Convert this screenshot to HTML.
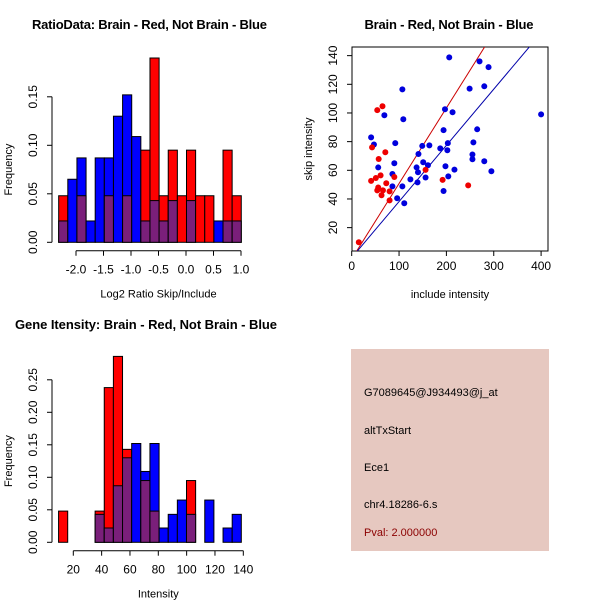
<!DOCTYPE html>
<html><head><meta charset="utf-8"><style>
html,body{margin:0;padding:0;background:#fff;}
svg{display:block;font-family:"Liberation Sans",sans-serif;}
</style></head><body>
<svg id="c" width="600" height="600" xmlns="http://www.w3.org/2000/svg">
<rect x="0" y="0" width="600" height="600" fill="#fff"/>
<text x="149.5" y="29" font-size="13" font-weight="bold" text-anchor="middle" textLength="235">RatioData: Brain - Red, Not Brain - Blue</text>
<text x="449" y="29" font-size="13" font-weight="bold" text-anchor="middle" textLength="169">Brain - Red, Not Brain - Blue</text>
<text x="146" y="329" font-size="13" font-weight="bold" text-anchor="middle" textLength="262">Gene Itensity: Brain - Red, Not Brain - Blue</text>
<g id="h1"></g>
<g id="sc"></g>
<g id="h2"></g>
<g>
<rect x="351" y="349" width="198" height="202" fill="#e6c8c0"/>
<text x="364" y="396" font-size="11">G7089645@J934493@j_at</text>
<text x="364" y="434" font-size="11">altTxStart</text>
<text x="364" y="471" font-size="11">Ece1</text>
<text x="364" y="508" font-size="11">chr4.18286-6.s</text>
<text x="364" y="536" font-size="11" fill="#8b0000">Pval: 2.000000</text>
</g>
</svg>
<script>
// ---- Ratio histogram data ----
const ratioBinStart = -2.315;
const ratioBinWidth = 0.166;
const ratioRed  = [0.048,0,0.048,0,0,0.048,0,0.048,0,0.095,0.19,0.048,0.095,0.048,0.095,0.048,0.048,0,0.095,0.048];
const ratioBlue = [0.022,0.065,0.087,0.022,0.087,0.087,0.130,0.152,0.109,0.022,0.043,0.022,0.043,0,0.043,0,0,0.022,0.022,0.022];
const ratioXTicks = [-2.0,-1.5,-1.0,-0.5,0.0,0.5,1.0];
const ratioXTickLabels = ["-2.0","-1.5","-1.0","-0.5","0.0","0.5","1.0"];
const ratioYTicks = [0,0.05,0.10,0.15];
const ratioYTickLabels = ["0.00","0.05","0.10","0.15"];
// ---- Intensity histogram data ----
const intBinStart = 9.6;
const intBinWidth = 6.45;
const intRed  = [0.048,0,0,0,0.048,0.238,0.286,0.143,0,0.095,0.048,0,0,0,0.095,0,0,0,0,0];
const intBlue = [0,0,0,0,0.043,0.022,0.087,0.130,0.152,0.109,0.152,0.022,0.043,0.065,0.043,0,0.065,0,0.022,0.043];
const intXTicks = [20,40,60,80,100,120,140];
const intXTickLabels = ["20","40","60","80","100","120","140"];
const intYTicks = [0,0.05,0.10,0.15,0.20,0.25];
const intYTickLabels = ["0.00","0.05","0.10","0.15","0.20","0.25"];
// ---- Scatter data ----
const blueX = [206,270,289,107,249,280,400,197,213,69,109,194,265,41,47,92,257,203,187,202,149,164,141,255,255,280,151,161,90,137,198,217,56,295,140,86,124,139,204,156,86,107,96,194,111];
const blueY = [138.8,136,132,116.5,117,118.6,99,102.6,100.5,98.4,95.6,88,88.6,83,78,79,79.5,79,75.3,74,77,77.4,71.4,71,67.7,66.3,65.6,63.5,64.9,62,62.8,60.5,62,59.3,58.6,57.4,53.7,51.6,55.8,55,48.8,48.8,40.5,45.6,37];
const redX = [15,65,54,43,71,57,61,51,41,90,73,156,192,246,56,54,66,63,80,80];
const redY = [9.8,104.7,102,76,72.6,67.9,56.5,54.6,52.6,55.3,51,60.3,53.3,49.5,48,46,46,42.6,45.3,39];
const redLine = [0.527,-1.9];   // slope, intercept
const blueLine = [0.392,-1.0];
const scXTicks = [0,100,200,300,400];
const scXTickLabels = ["0","100","200","300","400"];
const scYTicks = [20,40,60,80,100,120,140];
const scYTickLabels = ["20","40","60","80","100","120","140"];

const NS="http://www.w3.org/2000/svg";
function mk(parent,tag,attrs,text){const e=document.createElementNS(NS,tag);for(const k in attrs)e.setAttribute(k,attrs[k]);if(text!==undefined)e.textContent=text;parent.appendChild(e);return e;}
const PURPLE="#7a1f7a";

function histogram(g,o){
  const sx=v=>o.x0+(v-o.xv0)*o.kx;
  const sy=v=>o.y0-v*o.ky;
  for(let i=0;i<o.red.length;i++){
    const r=o.red[i],b=o.blue[i];
    const a=o.binStart+i*o.binWidth, x1=sx(a), x2=sx(a+o.binWidth);
    const hi=Math.max(r,b), lo=Math.min(r,b);
    if(hi>0){
      const e=mk(g,'rect',{x:x1,y:sy(hi),width:x2-x1,height:sy(0)-sy(hi),fill:r>=b?'#ff0000':'#0000ff',stroke:'#000','stroke-width':1});
      
      
    }
    if(lo>0){
      const e=mk(g,'rect',{x:x1,y:sy(lo),width:x2-x1,height:sy(0)-sy(lo),fill:PURPLE,stroke:'#000','stroke-width':1});
      
      
    }
  }
  const xa=o.xTicks;
  const ax=mk(g,'line',{x1:sx(xa[0]),x2:sx(xa[xa.length-1]),y1:o.xAxisY,y2:o.xAxisY,stroke:'#000'});
  
  
  xa.forEach((t,i)=>{
    mk(g,'line',{x1:sx(t),x2:sx(t),y1:o.xAxisY,y2:o.xAxisY+5,stroke:'#000'});
    const l=mk(g,'text',{x:sx(t),y:o.xAxisY+23,'font-size':12,'text-anchor':'middle'},o.xLabels[i]);
    
    
  });
  const ya=o.yTicks;
  const ay=mk(g,'line',{x1:o.yAxisX,x2:o.yAxisX,y1:sy(ya[0]),y2:sy(ya[ya.length-1]),stroke:'#000'});
  
  
  ya.forEach((t,i)=>{
    mk(g,'line',{x1:o.yAxisX-5,x2:o.yAxisX,y1:sy(t),y2:sy(t),stroke:'#000'});
    const l=mk(g,'text',{x:0,y:0,'font-size':12,'text-anchor':'middle',transform:`translate(${o.yAxisX-15},${sy(t)}) rotate(-90)`},o.yLabels[i]);
    
    
  });
  const xt=mk(g,'text',{x:(sx(xa[0])+sx(xa[xa.length-1]))/2,y:o.xAxisY+47,'font-size':11,'text-anchor':'middle'},o.xTitle);
  
  
  const yt=mk(g,'text',{x:0,y:0,'font-size':11,'text-anchor':'middle',transform:`translate(12,${(o.y0+sy(ya[ya.length-1]))/2}) rotate(-90)`},'Frequency');
  
  
}

histogram(document.getElementById('h1'),{
  red:ratioRed,blue:ratioBlue,binStart:ratioBinStart,binWidth:ratioBinWidth,
  x0:76,xv0:-2.0,kx:55,y0:242.3,ky:970,xAxisY:250.7,yAxisX:52,
  xTicks:ratioXTicks,xLabels:ratioXTickLabels,yTicks:ratioYTicks,yLabels:ratioYTickLabels,
  xTitle:'Log2 Ratio Skip/Include'});
histogram(document.getElementById('h2'),{
  red:intRed,blue:intBlue,binStart:intBinStart,binWidth:intBinWidth,
  x0:73.3,xv0:20,kx:1.4167,y0:542.3,ky:650,xAxisY:550.7,yAxisX:52,
  xTicks:intXTicks,xLabels:intXTickLabels,yTicks:intYTicks,yLabels:intYTickLabels,
  xTitle:'Intensity'});

(function(){
  const g=document.getElementById('sc');
  const L=352,R=548,T=47,B=251;
  const sx=v=>351.7+v*0.4735;
  const sy=v=>256.3-v*1.4333;
  const defs=mk(g,'defs',{});
  const cp=mk(defs,'clipPath',{id:'scclip'});
  mk(cp,'rect',{x:L,y:T,width:R-L,height:B-T});
  const box=mk(g,'rect',{x:L,y:T,width:R-L,height:B-T,fill:'none',stroke:'#000'});
  
  
  const lg=mk(g,'g',{'clip-path':'url(#scclip)'});
  [[redLine,'#cc0000','red-fit-line'],[blueLine,'#0000aa','blue-fit-line']].forEach(([ln,c,n])=>{
    const e=mk(lg,'line',{x1:sx(0),y1:sy(ln[1]),x2:sx(450),y2:sy(ln[0]*450+ln[1]),stroke:c,'stroke-width':1});
    
    
  });
  blueX.forEach((x,i)=>{
    const e=mk(g,'circle',{cx:sx(x),cy:sy(blueY[i]),r:3,fill:'#0000dd'});
    
    
  });
  redX.forEach((x,i)=>{
    const e=mk(g,'circle',{cx:sx(x),cy:sy(redY[i]),r:3,fill:'#ee0000'});
    
    
  });
  scXTicks.forEach((t,i)=>{
    mk(g,'line',{x1:sx(t),x2:sx(t),y1:B,y2:B+5,stroke:'#000'});
    const l=mk(g,'text',{x:sx(t),y:B+19,'font-size':12,'text-anchor':'middle'},scXTickLabels[i]);
    
    
  });
  scYTicks.forEach((t,i)=>{
    mk(g,'line',{x1:L-5,x2:L,y1:sy(t),y2:sy(t),stroke:'#000'});
    const l=mk(g,'text',{x:0,y:0,'font-size':12,'text-anchor':'middle',transform:`translate(${L-15},${sy(t)}) rotate(-90)`},scYTickLabels[i]);
    
    
  });
  const xt=mk(g,'text',{x:450,y:298,'font-size':11,'text-anchor':'middle'},'include intensity');
  
  
  const yt=mk(g,'text',{x:0,y:0,'font-size':11,'text-anchor':'middle',transform:'translate(312,149) rotate(-90)'},'skip intensity');
  
  
})();
</script>
</body></html>
